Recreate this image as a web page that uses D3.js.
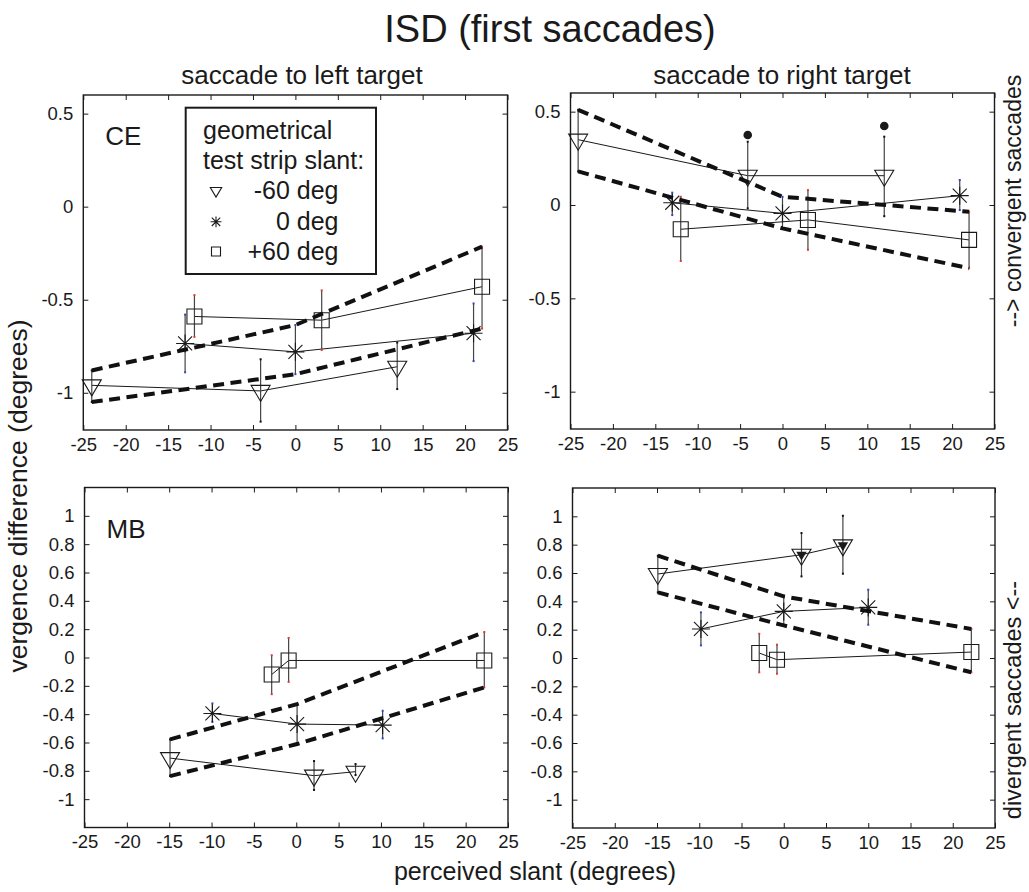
<!DOCTYPE html>
<html><head><meta charset="utf-8">
<script src="https://cdn.jsdelivr.net/npm/d3@7"></script>
<style>body{margin:0;background:#fff}svg{display:block;font-family:"Liberation Sans",Arial,Helvetica,sans-serif}</style>
</head><body><svg id="c" width="1029" height="892"></svg>
<script>
// ---------------- data ----------------
const xTickValues = [-25,-20,-15,-10,-5,0,5,10,15,20,25];
const yTicksTop = [-1,-0.5,0,0.5];
const yTicksBottom = [-1,-0.8,-0.6,-0.4,-0.2,0,0.2,0.4,0.6,0.8,1];
const legendLabels = ["-60 deg","0 deg","+60 deg"];

// each point: [perceived slant, vergence difference, error low, error high]
const ceLeftM60  = [[-24.0,-0.96,-1.05,-0.88],[-4.1,-0.99,-1.155,-0.82],[12.0,-0.86,-0.98,-0.73]];
const ceLeftZero = [[-13.0,-0.735,-0.89,-0.58],[0.0,-0.78,-0.90,-0.636],[21.0,-0.68,-0.83,-0.52]];
const ceLeftP60  = [[-11.9,-0.59,-0.70,-0.475],[3.1,-0.61,-0.77,-0.45],[22.0,-0.43,-0.655,-0.215]];

const ceRightM60  = [[-24.1,0.35,0.18,0.51],[-4.1,0.157,-0.018,0.339],[12.0,0.157,-0.06,0.366]];
const ceRightZero = [[-13.0,0.012,-0.054,0.066],[0.0,-0.045,-0.125,0.044],[20.9,0.05,-0.027,0.134]];
const ceRightP60  = [[-12.0,-0.13,-0.30,0.044],[3.0,-0.08,-0.24,0.08],[22.0,-0.187,-0.339,-0.036]];
const ceRightDots = [[-4.1,0.375],[12.0,0.423]];

const mbLeftM60  = [[-14.9,-0.71,-0.837,-0.578],[2.1,-0.834,-0.935,-0.731],[7.0,-0.806,-0.83,-0.752]];
const mbLeftZero = [[-9.9,-0.395,-0.454,-0.324],[0.1,-0.47,-0.611,-0.329],[10.2,-0.477,-0.571,-0.376]];
const mbLeftP60  = [[-2.9,-0.12,-0.259,0.016],[-0.9,-0.021,-0.172,0.138],[22.2,-0.021,-0.211,0.18]];

const mbRightM60  = [[-14.9,0.593,0.463,0.722],[2.1,0.729,0.576,0.882],[7.0,0.795,0.595,1.004]];
const mbRightZero = [[-9.8,0.205,0.089,0.322],[0.0,0.329,0.230,0.435],[10.0,0.357,0.235,0.482]];
const mbRightP60  = [[-2.9,0.035,-0.101,0.171],[-0.8,-0.012,-0.111,0.094],[22.2,0.042,-0.101,0.205]];
const mbRightFilled = [1,2]; // indices of -60 deg points with filled triangle

// ---------------- layout ----------------
const svg = d3.select("#c");
const INK = "#1a1a1a";
const panels = [
  {x0:83.3,x1:507.5,y0:95,y1:430,yDomain:[-1.2,0.6],yTicks:yTicksTop,
   series:[ceLeftM60,ceLeftZero,ceLeftP60],label:"CE",legend:true},
  {x0:570.5,x1:994.5,y0:93,y1:429,yDomain:[-1.2,0.6],yTicks:yTicksTop,
   series:[ceRightM60,ceRightZero,ceRightP60],dots:ceRightDots},
  {x0:84.5,x1:508,y0:487.5,y1:827.5,yDomain:[-1.2,1.2],yTicks:yTicksBottom,
   series:[mbLeftM60,mbLeftZero,mbLeftP60],label:"MB"},
  {x0:572.5,x1:995,y0:488,y1:828,yDomain:[-1.2,1.2],yTicks:yTicksBottom,
   series:[mbRightM60,mbRightZero,mbRightP60],filled:mbRightFilled}
];

const fmt = d => String(+(+d).toFixed(1));
const capColors = ["#111","#3046c8","#e03a3a"];

const triPath = s => `M${-9.5*s},${-5.5*s}L${9.5*s},${-5.5*s}L0,${10.5*s}Z`;
const starPath = s => `M${-9*s},0H${9*s}M0,${-9*s}V${9*s}M${-7*s},${-7*s}L${7*s},${7*s}M${-7*s},${7*s}L${7*s},${-7*s}`;
const sqPath = s => `M${-7.5*s},${-7.5*s}H${7.5*s}V${7.5*s}H${-7.5*s}Z`;
const markerPaths = [triPath, starPath, sqPath];

function drawMarker(g, kind, cx, cy, s){
  g.append("path").attr("transform",`translate(${cx},${cy})`)
    .attr("d", markerPaths[kind](s)).attr("fill","none")
    .attr("stroke",INK).attr("stroke-width",1.1);
}

panels.forEach(p=>{
  const x = d3.scaleLinear().domain([-25,25]).range([p.x0,p.x1]);
  const y = d3.scaleLinear().domain(p.yDomain).range([p.y1,p.y0]);
  const g = svg.append("g");

  const styleAxis = a => { a.select(".domain").remove();
    a.selectAll(".tick line").attr("stroke",INK).attr("stroke-width",1);
    a.selectAll(".tick text").attr("fill",INK).style("font-size","18.5px").style("font-family","'Liberation Sans',Arial,sans-serif"); };
  g.append("g").attr("transform",`translate(0,${p.y1})`)
    .call(d3.axisBottom(x).tickValues(xTickValues).tickSize(-5).tickPadding(7.5).tickFormat(fmt)).call(styleAxis);
  g.append("g").attr("transform",`translate(0,${p.y0})`)
    .call(d3.axisTop(x).tickValues(xTickValues).tickSize(-5).tickFormat("")).call(styleAxis);
  g.append("g").attr("transform",`translate(${p.x0},0)`)
    .call(d3.axisLeft(y).tickValues(p.yTicks).tickSize(-5).tickPadding(10).tickFormat(fmt)).call(styleAxis);
  g.append("g").attr("transform",`translate(${p.x1},0)`)
    .call(d3.axisRight(y).tickValues(p.yTicks).tickSize(-5).tickFormat("")).call(styleAxis);
  g.append("rect").attr("x",p.x0).attr("y",p.y0).attr("width",p.x1-p.x0).attr("height",p.y1-p.y0)
    .attr("fill","none").attr("stroke",INK).attr("stroke-width",1.4);

  const line = d3.line().x(d=>x(d[0])).y(d=>y(d[1]));
  p.series.forEach(s=>{
    g.append("path").attr("d",line(s)).attr("fill","none").attr("stroke",INK).attr("stroke-width",1);
  });
  p.series.forEach((s,k)=>{
    s.forEach(d=>{
      g.append("line").attr("x1",x(d[0])).attr("x2",x(d[0])).attr("y1",y(d[2])).attr("y2",y(d[3]))
        .attr("stroke","#444").attr("stroke-width",1.2);
      [d[2],d[3]].forEach(v=>{
        g.append("rect").attr("x",x(d[0])-1).attr("y",y(v)-1).attr("width",2).attr("height",2)
          .attr("fill",capColors[k]);
      });
    });
  });
  p.series.forEach((s,k)=>{
    s.forEach((d,i)=>{
      drawMarker(g,k,x(d[0]),y(d[1]),1);
      if(k===0 && p.filled && p.filled.includes(i)){
        g.append("path").attr("transform",`translate(${x(d[0])},${y(d[1])})`)
          .attr("d",triPath(0.55)).attr("fill",INK);
      }
    });
  });
  if(p.dots){
    g.selectAll(null).data(p.dots).join("circle")
      .attr("cx",d=>x(d[0])).attr("cy",d=>y(d[1])).attr("r",4.3).attr("fill",INK);
  }
  // dashed band through error-bar ends of -60 first point, 0 deg middle point, +60 last point
  const anchors = [p.series[0][0], p.series[1][1], p.series[2][2]];
  const upper = anchors.map(d=>[d[0],d[3]]);
  const lower = anchors.map(d=>[d[0],d[2]]);
  [upper,lower].forEach(b=>{
    g.append("path").attr("d",line(b)).attr("fill","none").attr("stroke","#111")
      .attr("stroke-width",4).attr("stroke-dasharray","11,6.5");
  });

  if(p.label){
    g.append("text").attr("x",p.x0+22).attr("y",p.y0+50).text(p.label)
      .attr("fill",INK).style("font-size","26px");
  }
  if(p.legend){
    const L = g.append("g");
    L.append("rect").attr("x",185.7).attr("y",107.7).attr("width",190.3).attr("height",166.3)
      .attr("fill","#fff").attr("stroke",INK).attr("stroke-width",2);
    L.append("text").attr("x",203).attr("y",139.3).text("geometrical").attr("fill",INK).style("font-size","25px");
    L.append("text").attr("x",203).attr("y",169.3).text("test strip slant:").attr("fill",INK).style("font-size","25px");
    const rows = [199.3,230.3,260];
    legendLabels.forEach((t,k)=>{
      L.append("text").attr("x",338.5).attr("y",rows[k]).attr("text-anchor","end").text(t)
        .attr("fill",INK).style("font-size","25px");
      drawMarker(L,k,216,rows[k]-8.5,0.6);
    });
  }
});

const T = (x,y,txt,size,rot,anchor) => {
  const t = svg.append("text").attr("text-anchor",anchor||"middle").attr("fill",INK).style("font-size",size+"px").text(txt);
  if(rot) t.attr("transform",`translate(${x},${y}) rotate(${rot})`); else t.attr("x",x).attr("y",y);
  return t;
};
T(550,41.5,"ISD (first saccades)",38);
T(302,84,"saccade to left target",26);
T(782,84,"saccade to right target",26);
T(535,880,"perceived slant (degrees)",25);
T(27,496,"vergence difference (degrees)",26.5,-90);
T(1021,201,"--> convergent saccades",23,-90);
T(1021,700,"divergent saccades <--",23.5,-90);
</script></body></html>
